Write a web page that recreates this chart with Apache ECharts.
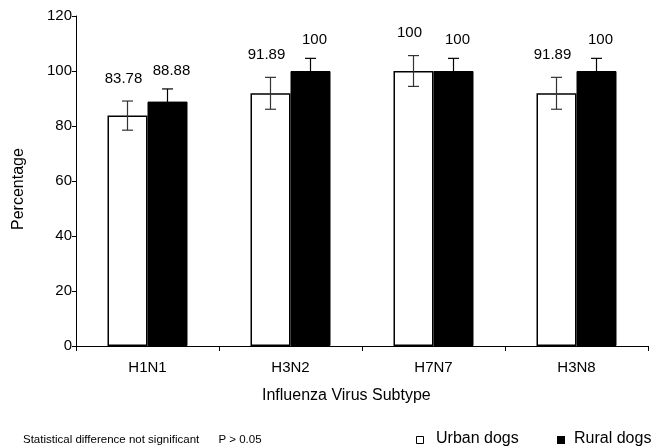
<!DOCTYPE html>
<html>
<head>
<meta charset="utf-8">
<script src="https://cdn.jsdelivr.net/npm/echarts@6/dist/echarts.min.js"></script>
<style>
  html, body { margin: 0; padding: 0; background: #fff; }
  #chart { width: 651px; height: 448px; }
</style>
</head>
<body>
<div id="chart"></div>
<script>
// subtypes on the x axis
const subtypes = ['H1N1', 'H3N2', 'H7N7', 'H3N8']
// seroprevalence (%) and error bar half-widths
const urbanValues = [83.78, 91.89, 100, 91.89]
const urbanErrors = [5.3, 5.8, 5.6, 5.8]
const ruralValues = [88.88, 100, 100, 100]
const ruralErrors = [4.6, 4.6, 4.6, 4.6]

const FONT = 'Arial, "Liberation Sans", sans-serif'
const BAR_W = 40

// error bar + value label drawn above each bar
const errorSeries = (values, errors, side, gap, color) => ({
  type: 'custom',
  z: 5,
  data: values.map((v, i) => [i, v, errors[i]]),
  renderItem: (params, api) => {
    const i = api.value(0)
    const v = api.value(1)
    const e = api.value(2)
    const top = api.coord([i, v + e])
    const bottom = api.coord([i, v - e])
    const x = top[0] + side * BAR_W / 2
    const cap = 5.5
    const style = { stroke: color, lineWidth: 1.2 }
    return {
      type: 'group',
      children: [
        { type: 'line', shape: { x1: x, y1: top[1], x2: x, y2: bottom[1] }, style },
        { type: 'line', shape: { x1: x - cap, y1: top[1], x2: x + cap, y2: top[1] }, style },
        { type: 'line', shape: { x1: x - cap, y1: bottom[1], x2: x + cap, y2: bottom[1] }, style },
        {
          type: 'text',
          style: {
            x: x + side * 4, y: top[1] - gap,
            text: String(v),
            fill: '#000',
            font: '15px ' + FONT,
            align: 'center',
            verticalAlign: 'bottom'
          }
        }
      ]
    }
  }
})

const myChart = echarts.init(document.getElementById('chart'))
const option = {
  animation: false,
  textStyle: { fontFamily: FONT },
  grid: { left: 76, right: 3, top: 16, bottom: 102 },
  xAxis: {
    type: 'category',
    data: subtypes,
    axisLine: { lineStyle: { color: '#000', width: 1 } },
    axisTick: { show: true, length: 5, lineStyle: { color: '#000' } },
    axisLabel: { color: '#000', fontSize: 15, margin: 14 }
  },
  yAxis: {
    type: 'value',
    min: 0,
    max: 120,
    interval: 20,
    splitLine: { show: false },
    axisLine: { show: true, lineStyle: { color: '#000', width: 1 } },
    axisTick: { show: true, length: 4, lineStyle: { color: '#000' } },
    axisLabel: { color: '#000', fontSize: 15, margin: 4 }
  },
  series: [
    {
      name: 'Urban dogs',
      type: 'bar',
      data: urbanValues,
      barWidth: BAR_W,
      barGap: '0%',
      itemStyle: { color: '#fff', borderColor: '#000', borderWidth: 1.5 }
    },
    {
      name: 'Rural dogs',
      type: 'bar',
      data: ruralValues,
      barWidth: BAR_W,
      barGap: '0%',
      itemStyle: { color: '#000', borderColor: '#000', borderWidth: 1 }
    },
    errorSeries(urbanValues, urbanErrors, -1, 15, '#333'),
    errorSeries(ruralValues, ruralErrors, 1, 11, '#000')
  ],
  graphic: [
    {
      type: 'text', x: 19, y: 230, rotation: Math.PI / 2,
      style: { text: 'Percentage', font: '16px ' + FONT, fill: '#000', verticalAlign: 'middle', align: 'left' }
    },
    {
      type: 'text', x: 262, y: 396,
      style: { text: 'Influenza Virus Subtype', font: '16px ' + FONT, fill: '#000', verticalAlign: 'middle' }
    },
    {
      type: 'text', x: 23, y: 440,
      style: { text: 'Statistical difference not significant      P > 0.05', font: '11.5px ' + FONT, fill: '#000', verticalAlign: 'middle' }
    },
    {
      type: 'rect', shape: { x: 416.5, y: 436.5, width: 7, height: 7 },
      style: { fill: '#fff', stroke: '#000', lineWidth: 1 }
    },
    {
      type: 'text', x: 436, y: 439,
      style: { text: 'Urban dogs', font: '16px ' + FONT, fill: '#000', verticalAlign: 'middle' }
    },
    {
      type: 'rect', shape: { x: 557, y: 436, width: 8, height: 8 },
      style: { fill: '#000' }
    },
    {
      type: 'text', x: 574, y: 439,
      style: { text: 'Rural dogs', font: '16px ' + FONT, fill: '#000', verticalAlign: 'middle' }
    }
  ]
}
myChart.setOption(option)
</script>
</body>
</html>
